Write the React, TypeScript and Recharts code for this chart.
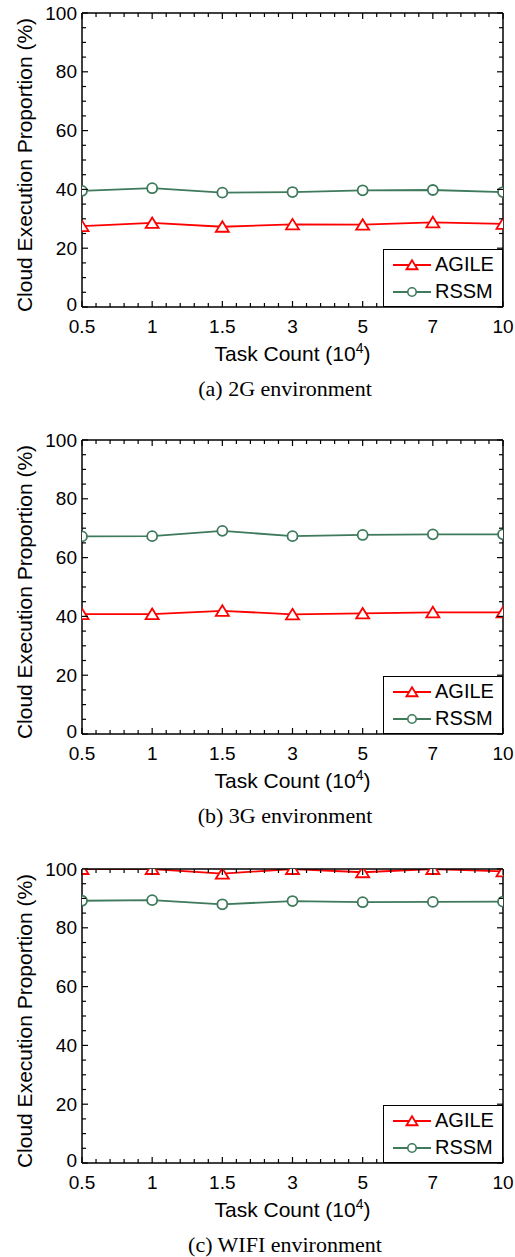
import { LineChart, Line, XAxis, YAxis, Legend } from 'recharts'

const taskCounts = ['0.5', '1', '1.5', '3', '5', '7', '10']
const yMajor = [0, 20, 40, 60, 80, 100]

const agile2G = [27.5, 28.6, 27.3, 28.1, 28.0, 28.8, 28.3]
const rssm2G = [39.5, 40.4, 38.9, 39.1, 39.7, 39.8, 39.1]

const agile3G = [40.8, 40.8, 41.9, 40.7, 41.0, 41.4, 41.4]
const rssm3G = [67.2, 67.3, 69.1, 67.3, 67.7, 67.9, 67.9]

const agileWifi = [100, 100, 98.4, 100, 98.9, 100, 99.2]
const rssmWifi = [89.2, 89.4, 88.0, 89.1, 88.7, 88.8, 88.9]

const FONT = '"Liberation Sans", Arial, Helvetica, sans-serif'
const SERIF = '"Liberation Serif", "Times New Roman", serif'
const RED = '#ff0000'
const GREEN = '#3e7a5b'

// minor ticks: 4 between categories, 3 between y majors
const xTicks = taskCounts.flatMap((_, i) =>
  i < taskCounts.length - 1 ? [0, 1, 2, 3, 4].map((k) => i + k / 5) : [i]
)
const yTicks = yMajor.flatMap((v, i) =>
  i < yMajor.length - 1 ? [0, 5, 10, 15].map((k) => v + k) : [v]
)

const isInt = (v: number) => Math.abs(v - Math.round(v)) < 1e-6

function BottomTick({ x, y, payload }: any) {
  const major = isInt(payload.value)
  return (
    <g>
      <line x1={x} x2={x} y1={y} y2={y - (major ? 6 : 4)} stroke="#000" strokeWidth={1.2} />
      {major && (
        <text x={x} y={y + 26} textAnchor="middle" fontSize={19} fontFamily={FONT} fill="#000">
          {taskCounts[Math.round(payload.value)]}
        </text>
      )}
    </g>
  )
}

function TopTick({ x, y, payload }: any) {
  const major = isInt(payload.value)
  return <line x1={x} x2={x} y1={y} y2={y + (major ? 6 : 4)} stroke="#000" strokeWidth={1.2} />
}

function LeftTick({ x, y, payload }: any) {
  const major = payload.value % 20 === 0
  // the 0 label sits a little higher so it clears the first x label
  const dy = payload.value === 0 ? 3.5 : 6.5
  return (
    <g>
      <line x1={x} x2={x + (major ? 6 : 4)} y1={y} y2={y} stroke="#000" strokeWidth={1.2} />
      {major && (
        <text x={x - 5} y={y + dy} textAnchor="end" fontSize={19} fontFamily={FONT} fill="#000">
          {payload.value}
        </text>
      )}
    </g>
  )
}

function RightTick({ x, y, payload }: any) {
  const major = payload.value % 20 === 0
  return <line x1={x} x2={x - (major ? 6 : 4)} y1={y} y2={y} stroke="#000" strokeWidth={1.2} />
}

function XTitle({ viewBox, caption }: any) {
  const { x, y, width } = viewBox
  return (
    <g>
      <text x={x + width / 2} y={y + 54} textAnchor="middle" fontSize={21} fontFamily={FONT} fill="#000">
        Task Count (10
        <tspan dy={-8} fontSize={14}>4</tspan>
        <tspan dy={8}>)</tspan>
      </text>
      <text x={285} y={y + 89} textAnchor="middle" fontSize={22} fontFamily={SERIF} fill="#000">
        {caption}
      </text>
    </g>
  )
}

function YTitle({ viewBox }: any) {
  const { y, height } = viewBox
  return (
    <text
      transform={`translate(24, ${y + height / 2 + 5}) rotate(-90)`}
      dy={7.5}
      textAnchor="middle"
      fontSize={21}
      fontFamily={FONT}
      fill="#000"
    >
      Cloud Execution Proportion (%)
    </text>
  )
}

function Triangle({ cx, cy, size = 1 }: any) {
  const w = 6.5 * size
  return (
    <path
      d={`M${cx},${cy - 5.5 * size} L${cx + w},${cy + 5 * size} L${cx - w},${cy + 5 * size} Z`}
      fill="#fff"
      stroke={RED}
      strokeWidth={1.8}
    />
  )
}

function LegendBox() {
  const row = (top: number, name: string, color: string, marker: any) => (
    <div style={{ position: 'absolute', left: 0, top, height: 20, width: 120 }}>
      <svg width={44} height={20} style={{ position: 'absolute', left: 6, top: 0 }}>
        <line x1={3} x2={41} y1={10} y2={10} stroke={color} strokeWidth={1.8} />
        {marker}
      </svg>
      <span style={{ position: 'absolute', left: 51, top: -1, lineHeight: '20px', fontSize: 20, fontFamily: FONT, color: '#000' }}>
        {name}
      </span>
    </div>
  )
  return (
    <div style={{ position: 'relative', boxSizing: 'border-box', width: 120, height: 58, border: '1.5px solid #000', background: '#fff' }}>
      {row(5, 'AGILE', RED, <Triangle cx={22} cy={10} size={0.85} />)}
      {row(32, 'RSSM', GREEN, <circle cx={22} cy={10} r={4.2} fill="#fff" stroke={GREEN} strokeWidth={1.6} />)}
    </div>
  )
}

function Panel({ top, agile, rssm, caption }: any) {
  const data = taskCounts.map((t, i) => ({ idx: i, task: t, agile: agile[i], rssm: rssm[i] }))
  return (
    <div style={{ position: 'absolute', left: 0, top }}>
      <LineChart width={515} height={401} data={data} margin={{ top: 12, right: 11, bottom: 34, left: 0 }}>
        <XAxis
          dataKey="idx"
          type="number"
          domain={[0, 6]}
          ticks={xTicks}
          interval={0}
          allowDataOverflow
          height={60}
          tickSize={0}
          tickMargin={0}
          tickLine={false}
          tick={(p: any) => <BottomTick {...p} />}
          axisLine={{ stroke: '#000', strokeWidth: 1.5 }}
          label={<XTitle caption={caption} />}
        />
        <XAxis
          xAxisId="top"
          orientation="top"
          dataKey="idx"
          type="number"
          domain={[0, 6]}
          ticks={xTicks}
          interval={0}
          allowDataOverflow
          height={1}
          tickSize={0}
          tickMargin={0}
          tickLine={false}
          tick={(p: any) => <TopTick {...p} />}
          axisLine={{ stroke: '#000', strokeWidth: 1.5 }}
        />
        <YAxis
          type="number"
          domain={[0, 100]}
          ticks={yTicks}
          interval={0}
          allowDataOverflow
          width={82}
          tickSize={0}
          tickMargin={0}
          tickLine={false}
          tick={(p: any) => <LeftTick {...p} />}
          axisLine={{ stroke: '#000', strokeWidth: 1.5 }}
          label={<YTitle />}
        />
        <YAxis
          yAxisId="r"
          orientation="right"
          type="number"
          domain={[0, 100]}
          ticks={yTicks}
          interval={0}
          allowDataOverflow
          width={1}
          tickSize={0}
          tickMargin={0}
          tickLine={false}
          tick={(p: any) => <RightTick {...p} />}
          axisLine={{ stroke: '#000', strokeWidth: 1.5 }}
        />
        <Legend
          layout="vertical"
          align="center"
          verticalAlign="middle"
          wrapperStyle={{ left: 383, top: 249, width: 120, height: 58 }}
          content={<LegendBox />}
        />
        <Line
          dataKey="rssm"
          name="RSSM"
          stroke={GREEN}
          strokeWidth={1.8}
          isAnimationActive={false}
          dot={(p: any) => (
            <circle key={`c${p.index}`} cx={p.cx} cy={p.cy} r={5} fill="#fff" stroke={GREEN} strokeWidth={1.8} />
          )}
        />
        <Line
          dataKey="agile"
          name="AGILE"
          stroke={RED}
          strokeWidth={1.8}
          isAnimationActive={false}
          dot={(p: any) => <Triangle key={`t${p.index}`} cx={p.cx} cy={p.cy} />}
        />
      </LineChart>
    </div>
  )
}

export default function App() {
  return (
    <div style={{ position: 'absolute', left: 0, top: 0, width: 515, height: 1257, background: '#fff', overflow: 'hidden' }}>
      <Panel top={0} agile={agile2G} rssm={rssm2G} caption="(a) 2G environment" />
      <Panel top={427} agile={agile3G} rssm={rssm3G} caption="(b) 3G environment" />
      <Panel top={856} agile={agileWifi} rssm={rssmWifi} caption="(c) WIFI environment" />
    </div>
  )
}
